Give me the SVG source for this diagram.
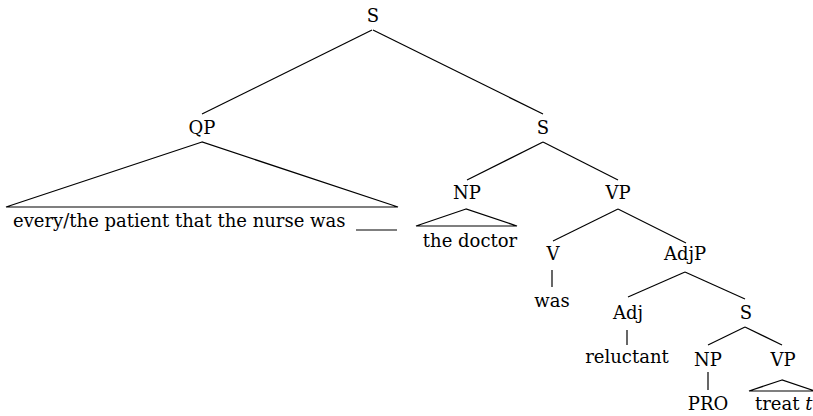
<svg xmlns="http://www.w3.org/2000/svg" width="813" height="416" viewBox="0 0 813 416">
<style>
.t{font-family:'DejaVu Serif','Liberation Serif',serif;font-size:18px;fill:#000;text-anchor:middle}
.s{text-anchor:start}
.e{stroke:#000;stroke-width:1.2;fill:none}
.tri{stroke:#000;stroke-width:1.2;fill:none;stroke-linejoin:miter}
</style>
<rect width="813" height="416" fill="#fff"/>
<g id="connectors" class="e">
<line x1="372" y1="30" x2="202" y2="114"/>
<line x1="373" y1="30" x2="543" y2="114"/>
<line x1="543" y1="142" x2="467" y2="180"/>
<line x1="543" y1="142" x2="618" y2="180"/>
<line x1="618" y1="209" x2="553" y2="241"/>
<line x1="618" y1="209" x2="686" y2="243"/>
<line x1="552" y1="270" x2="552" y2="287"/>
<line x1="685" y1="272" x2="628" y2="297"/>
<line x1="685" y1="272" x2="745" y2="299"/>
<line x1="627" y1="330" x2="627" y2="345"/>
<line x1="745" y1="327" x2="708" y2="345"/>
<line x1="745" y1="327" x2="782" y2="345"/>
<line x1="708" y1="372" x2="708" y2="390"/>
</g>
<g id="S0"><text class="t" x="373" y="22">S</text></g>
<g id="QP">
<text class="t" x="202" y="134">QP</text>
<polygon class="tri" points="202,142 6,207 398,207"/>
<text class="t s" x="13" y="227">every/the patient that the nurse was</text>
<line class="e" x1="356" y1="230" x2="397" y2="230"/>
</g>
<g id="S1"><text class="t" x="543" y="134">S</text></g>
<g id="NP1">
<text class="t" x="467" y="199">NP</text>
<polygon class="tri" points="466,209 416,226 517,226"/>
<text class="t" x="470" y="247">the doctor</text>
</g>
<g id="VP1"><text class="t" x="618" y="199">VP</text></g>
<g id="V"><text class="t" x="553" y="260">V</text></g>
<g id="was"><text class="t" x="552" y="307">was</text></g>
<g id="AdjP"><text class="t" x="685" y="260">AdjP</text></g>
<g id="Adj"><text class="t" x="628" y="319">Adj</text></g>
<g id="reluctant"><text class="t" x="627" y="363">reluctant</text></g>
<g id="S2"><text class="t" x="746" y="319">S</text></g>
<g id="NP2"><text class="t" x="708" y="366">NP</text></g>
<g id="PRO"><text class="t" x="708" y="410">PRO</text></g>
<g id="VP2">
<text class="t" x="783" y="366">VP</text>
<polygon class="tri" points="782,380 749,391 815,391"/>
<text class="t s" x="755" y="410">treat <tspan font-style="italic">t</tspan></text>
</g>
</svg>
